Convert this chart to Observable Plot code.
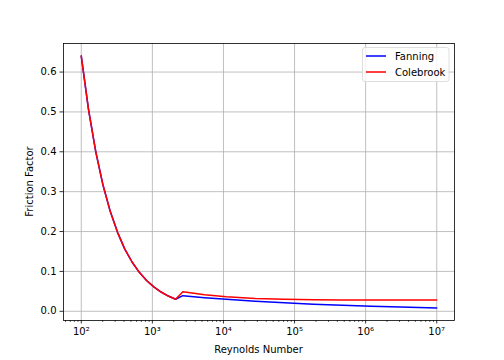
<!DOCTYPE html>
<html><head><meta charset="utf-8">
<script src="https://cdn.jsdelivr.net/npm/d3@7"></script>
<script src="https://cdn.jsdelivr.net/npm/@observablehq/plot@0.6"></script>
<style>
body{margin:0;background:#fff}
#chart svg{font-family:"DejaVu Sans",sans-serif}
</style>
</head><body><div id="chart"></div>
<script>
// Reynolds numbers (x) and friction factors
const reynolds = [100, 126.5, 160, 202.4, 256, 323.7, 409.5, 517.9, 655.1, 828.6, 1048, 1326, 1677, 2121,
  2683, 5429, 10985, 28118, 71969, 184207, 471487, 1208000, 3090000, 10000000];
const fanning = [0.640, 0.506, 0.400, 0.316, 0.250, 0.198, 0.156, 0.1236, 0.0977, 0.0772, 0.0611, 0.0483, 0.0382, 0.0302,
  0.0392, 0.0342, 0.0302, 0.0253, 0.0212, 0.0178, 0.0150, 0.0126, 0.0106, 0.0085];
const colebrook = [0.640, 0.506, 0.400, 0.316, 0.250, 0.198, 0.156, 0.1236, 0.0977, 0.0772, 0.0611, 0.0483, 0.0382, 0.0302,
  0.0490, 0.0412, 0.0365, 0.0322, 0.0300, 0.0290, 0.0285, 0.0283, 0.0282, 0.0281];
const seriesNames = ["Fanning", "Colebrook"];
const seriesColors = ["#0000ff", "#ff0000"];
const xMajorTicks = [1e2, 1e3, 1e4, 1e5, 1e6, 1e7];
const xTickLabels = ["10²", "10³", "10⁴", "10⁵", "10⁶", "10⁷"];
const xMinorTicks = [60, 70, 80, 90, 200, 300, 400, 500, 600, 700, 800, 900,
  2000, 3000, 4000, 5000, 6000, 7000, 8000, 9000,
  20000, 30000, 40000, 50000, 60000, 70000, 80000, 90000,
  200000, 300000, 400000, 500000, 600000, 700000, 800000, 900000,
  2000000, 3000000, 4000000, 5000000, 6000000, 7000000, 8000000, 9000000];
const yTicks = [0, 0.1, 0.2, 0.3, 0.4, 0.5, 0.6];
const yTickLabels = ["0.0", "0.1", "0.2", "0.3", "0.4", "0.5", "0.6"];
const xLabel = "Reynolds Number";
const yLabel = "Friction Factor";

const fanData = reynolds.map((re, i) => ({re, f: fanning[i]}));
const colData = reynolds.map((re, i) => ({re, f: colebrook[i]}));

const W = 504, H = 360, mL = 63, mR = 50, mT = 43, mB = 40;
const grid = {stroke: "#b0b0b0", strokeOpacity: 1, strokeWidth: 0.8};

const chart = Plot.plot({
  width: W, height: H,
  marginLeft: mL, marginRight: mR, marginTop: mT, marginBottom: mB,
  style: {fontFamily: "DejaVu Sans, sans-serif", fontSize: "10px", color: "black", background: "white"},
  x: {type: "log", domain: [Math.pow(10, 1.75), Math.pow(10, 7.25)]},
  y: {domain: [-0.0231, 0.6716]},
  marks: [
    Plot.gridX(xMajorTicks, grid),
    Plot.gridY(yTicks, grid),
    Plot.axisX(xMajorTicks, {tickSize: 3.5, tickPadding: 3.5, tickFormat: d => xTickLabels[xMajorTicks.indexOf(d)], label: null, stroke: "black", strokeWidth: 0.8, fill: "black", fontSize: 10}),
    Plot.axisX(xMinorTicks, {tickSize: 2, tickFormat: () => "", label: null, stroke: "black", strokeWidth: 0.6}),
    Plot.axisY(yTicks, {tickSize: 3.5, tickPadding: 3.5, tickFormat: d => yTickLabels[yTicks.indexOf(d)], label: null, stroke: "black", strokeWidth: 0.8, fill: "black", fontSize: 10}),
    Plot.line(fanData, {x: "re", y: "f", stroke: seriesColors[0], strokeWidth: 1.5}),
    Plot.line(colData, {x: "re", y: "f", stroke: seriesColors[1], strokeWidth: 1.5}),
    Plot.frame({stroke: "black", strokeWidth: 0.8})
  ]
});
document.getElementById("chart").appendChild(chart);

const svg = d3.select(chart);
svg.append("text").attr("x", (mL + W - mR) / 2).attr("y", 353)
  .attr("text-anchor", "middle").attr("font-size", 10).attr("fill", "black").text(xLabel);
svg.append("text").attr("transform", `translate(33,${(mT + H - mB) / 2}) rotate(-90)`)
  .attr("text-anchor", "middle").attr("font-size", 10).attr("fill", "black").text(yLabel);

// legend
const lg = svg.append("g");
lg.append("rect").attr("x", 362.5).attr("y", 47.5).attr("width", 86.5).attr("height", 34).attr("rx", 2.5)
  .attr("fill", "white").attr("fill-opacity", 0.8).attr("stroke", "#d6d6d6").attr("stroke-width", 0.8);
seriesNames.forEach((name, i) => {
  const y = 56 + i * 16;
  lg.append("line").attr("x1", 366).attr("x2", 386).attr("y1", y).attr("y2", y)
    .attr("stroke", seriesColors[i]).attr("stroke-width", 1.5);
  lg.append("text").attr("x", 395).attr("y", y + 3.5).attr("text-anchor", "start")
    .attr("font-size", 10).attr("fill", "black").text(name);
});
</script>
</body></html>
